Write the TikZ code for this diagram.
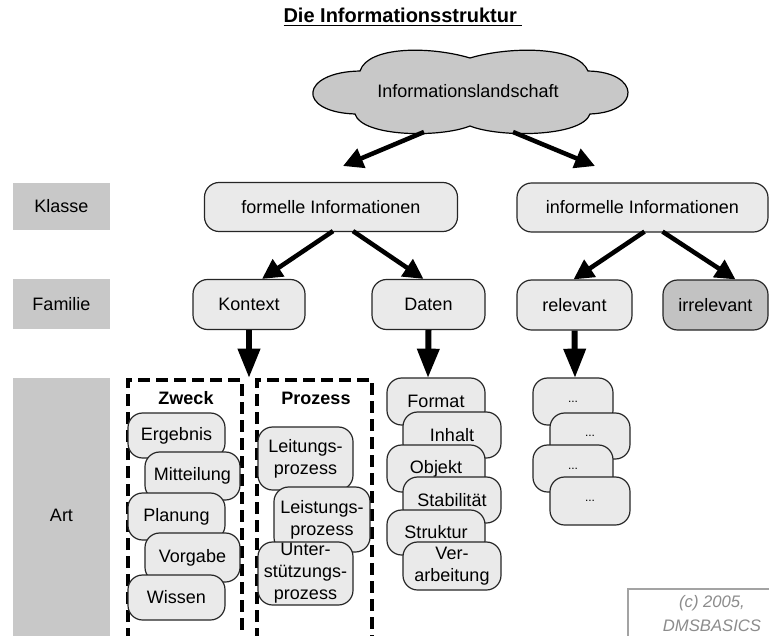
\documentclass[tikz,border=0pt]{standalone}
\usepackage{fontspec}
\setmainfont{Liberation Sans}
\usetikzlibrary{arrows.meta,calc}
\definecolor{boxgray}{HTML}{EAEAEA}
\definecolor{labgray}{HTML}{C8C8C8}
\definecolor{darkgray}{HTML}{C2C2C2}
\definecolor{cloudgray}{HTML}{C8C8C8}
\definecolor{copygray}{HTML}{8C8C8C}
\begin{document}
\begin{tikzpicture}[x=0.75pt,y=-0.75pt,
  every node/.style={font=\fontsize{13.5}{16.5}\selectfont},
  rbox/.style={draw=black!85, line width=0.9pt, fill=boxgray, rounded corners=11pt, inner sep=0pt, align=center},
  sz/.style n args={2}{minimum width=#1*0.75pt, minimum height=#2*0.75pt},
  lab/.style={fill=labgray, inner sep=0pt},
  darr/.style={line width=3.4pt, -{Triangle[length=15pt,width=15pt]}},
  varr/.style={line width=4.5pt, -{Triangle[length=22pt,width=16pt]}},
  dbox/.style={line width=2.3pt, dash pattern=on 9pt off 4.5pt}]
\clip (0,0) rectangle (769,636);
\fill[white] (0,0) rectangle (769,636);

% title
\node[font=\bfseries\fontsize{15}{17}\selectfont] (title) at (403,17) {\underline{Die Informationsstruktur\ }};

% cloud
\draw[fill=cloudgray, line width=0.9pt]
  (470,58) .. controls (430,46) and (368,46) .. (360,71)
  .. controls (300,72) and (296,112) .. (355,114)
  .. controls (362,137) and (440,138) .. (470,126)
  .. controls (500,138) and (582,137) .. (590,114)
  .. controls (642,112) and (640,72) .. (588,71)
  .. controls (578,46) and (510,46) .. (470,58) -- cycle;
\node (cloud) at (468,91) {Informationslandschaft};

% left labels
\node[lab, sz={97}{47}] (klasse) at (61.5,206.5) {Klasse};
\node[lab, sz={97}{50}] (familie) at (61.5,304) {Familie};
\fill[labgray] (13,378) rectangle (110,636);
\node (art) at (61.5,515) {Art};

% level 1
\node[rbox, sz={253}{49}] (formelle) at (331,207) {formelle Informationen};
\node[rbox, sz={251}{49}] (informelle) at (642.5,207.5) {informelle Informationen};

% level 2
\node[rbox, sz={112}{50}] (kontext) at (249,304.5) {Kontext};
\node[rbox, sz={113}{50}] (daten) at (428.5,304.5) {Daten};
\node[rbox, sz={115}{50}] (relevant) at (574.5,305) {relevant};
\node[rbox, sz={105}{50}, fill=darkgray] (irrelevant) at (715.5,305) {irrelevant};

% cloud arrows
\coordinate (c1s) at (424,132);
\coordinate (c1e) at (343,166);
\coordinate (c2s) at (513,132);
\coordinate (c2e) at (595,166);
\draw[darr] (c1s) -- (c1e);
\draw[darr] (c2s) -- (c2e);

% level arrows
\draw[darr] ($(formelle.south)+(2,-1)$) -- ($(kontext.north)+(13,0)$);
\draw[darr] ($(formelle.south)+(22,-1)$) -- ($(daten.north)+(-5,0)$);
\draw[darr] ($(informelle.south)+(2,-1)$) -- ($(relevant.north)+(-1,0)$);
\draw[darr] ($(informelle.south)+(20,-1)$) -- ($(irrelevant.north)+(20,0)$);

% dashed boxes
\draw[dbox] (128,640) -- (128,380) -- (242,380) -- (242,640);
\draw[dbox] (257,640) -- (257,380) -- (372,380) -- (372,640);
\node[font=\bfseries\fontsize{13.5}{16}\selectfont] (zweck) at (186,398) {Zweck};
\node[font=\bfseries\fontsize{13.5}{16}\selectfont] (prozess) at (316,398) {Prozess};

% down arrows
\coordinate (kd) at (249,378);
\coordinate (dd) at (428,378);
\draw[varr] (kontext.south) -- (kd);
\draw[varr] (daten.south) -- (dd);

% Zweck items
\node[rbox, sz={97}{45}] (ergebnis) at (176.5,435.5) {Ergebnis};
\node[rbox, sz={95}{48}] (mitteilung) at (192.5,476) {Mitteilung};
\node[rbox, sz={97}{47}] (planung) at (176.5,516.5) {Planung};
\node[rbox, sz={95}{49}] (vorgabe) at (192.5,557.5) {Vorgabe};
\node[rbox, sz={97}{45}] (wissen) at (176.5,597.5) {Wissen};

% Prozess items
\node[rbox, sz={95}{63}] (leitung) at (305.5,458.5) {Leitungs-\\prozess};
\node[rbox, sz={96}{65}] (leistung) at (322,519.5) {Leistungs-\\prozess};
\node[rbox, sz={95}{63}] (unter) at (305.5,573.5) {Unter-\\stützungs-\\prozess};

% Daten items
\node[rbox, sz={98}{47}] (format) at (436,401.5) {Format};
\node[rbox, sz={98}{46}] (inhalt) at (452,435) {Inhalt};
\node[rbox, sz={98}{47}] (objekt) at (436,468.5) {Objekt};
\node[rbox, sz={98}{46}] (stabil) at (452,500) {Stabilität};
\node[rbox, sz={98}{45}] (struktur) at (436,532.5) {Struktur};
\node[rbox, sz={98}{48}] (verarb) at (452,566) {Ver-\\arbeitung};

% relevant items
\coordinate (rd) at (575,378);
\draw[varr] (relevant.south) -- (rd);
\node[rbox, sz={80}{47}, font=\fontsize{9}{10}\selectfont] (r1) at (573,401.5) {...};
\node[rbox, sz={80}{46}, font=\fontsize{9}{10}\selectfont] (r2) at (590,436) {...};
\node[rbox, sz={80}{47}, font=\fontsize{9}{10}\selectfont] (r3) at (573,468.5) {...};
\node[rbox, sz={80}{48}, font=\fontsize{9}{10}\selectfont] (r4) at (590,501) {...};

% copyright
\draw[draw=copygray!80, line width=1.6pt, fill=white] (628,589) rectangle (775,645);
\node[text=copygray, font=\itshape\fontsize{12.5}{18}\selectfont, align=center] (copy) at (712,614) {(c) 2005,\\DMSBASICS};
\end{tikzpicture}
\end{document}
